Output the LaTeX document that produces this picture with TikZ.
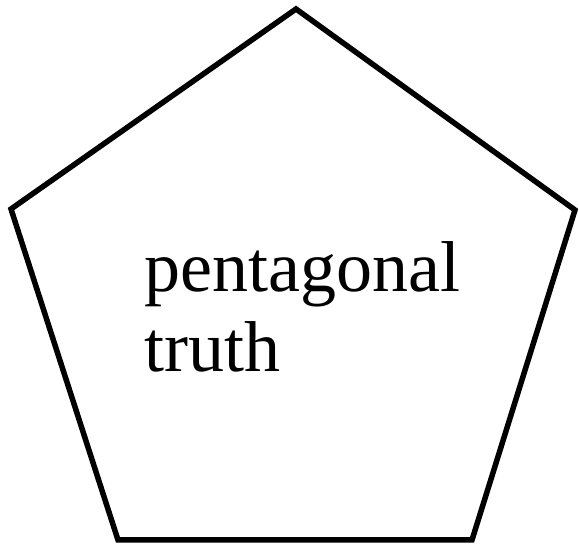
\documentclass[tikz,border=0pt]{standalone}
\usepackage{fontspec}
\setmainfont{Liberation Serif}
\usepackage{tikz}

\begin{document}
\begin{tikzpicture}[
  x=1pt, y=1pt,
  outline/.style={line width=5.5pt, line join=miter, black},
  label/.style={font=\fontsize{72}{80}\selectfont, align=left, inner sep=0pt, anchor=base west},
]

\useasboundingbox (0,0) rectangle (579,546);

\coordinate (top) at (296,537);
\coordinate (right) at (575,336);
\coordinate (lowright) at (472,6);
\coordinate (lowleft) at (118,6);
\coordinate (left) at (11,337);

\draw[outline] (top) -- (right) -- (lowright) -- (lowleft) -- (left) -- cycle;

% base anchor sits on the last line
\node[label] (truth) at (144,174) {pentagonal\\truth};

\end{tikzpicture}
\end{document}
